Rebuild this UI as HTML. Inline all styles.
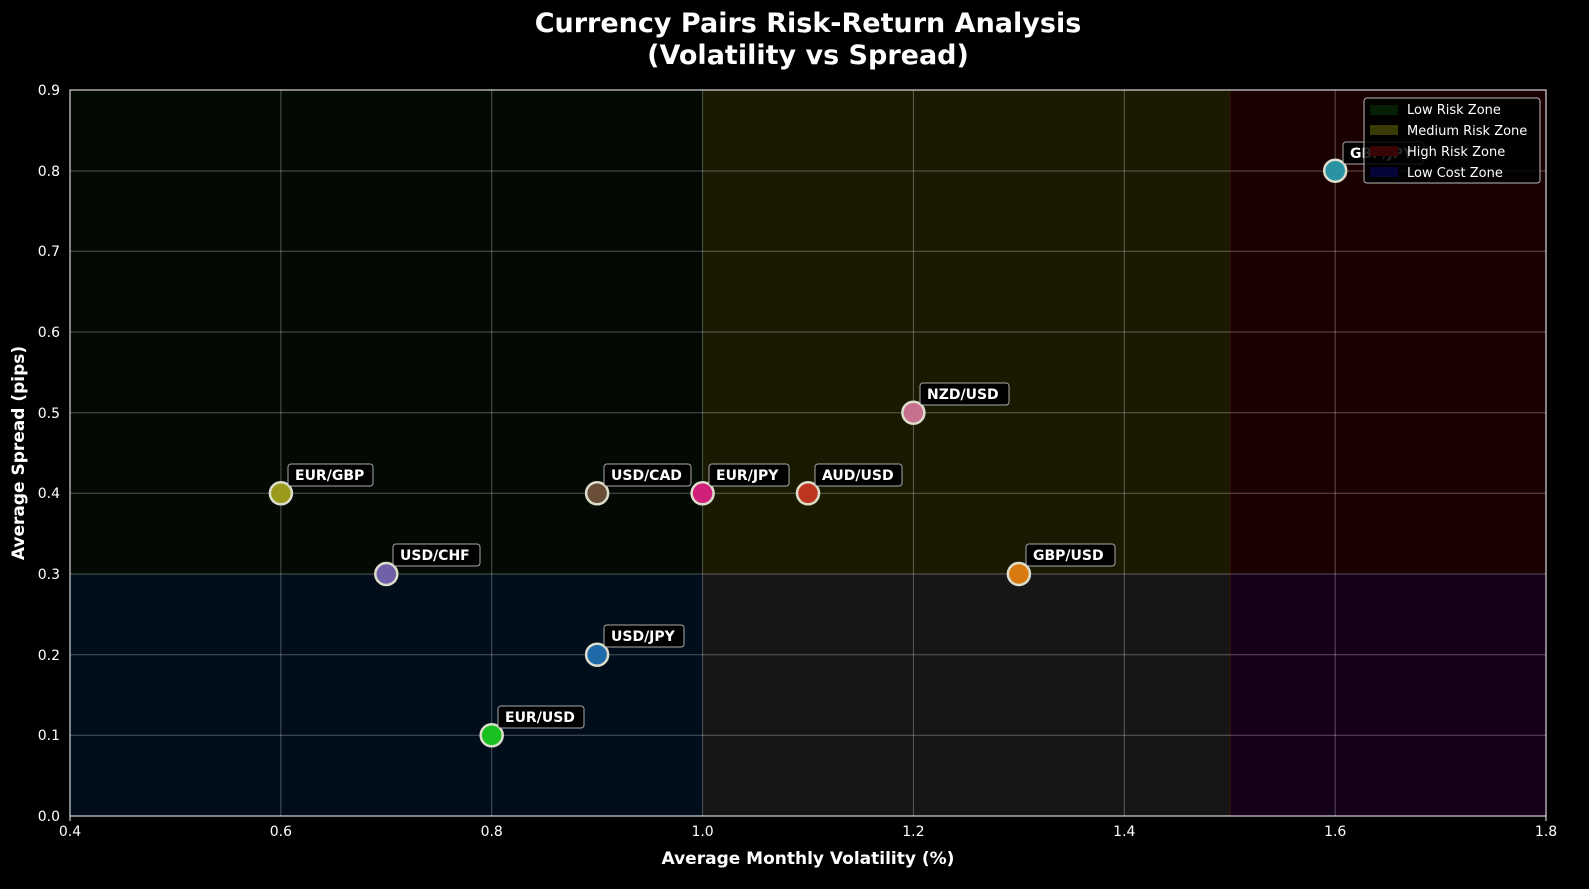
<!DOCTYPE html><html><head><meta charset="utf-8"><style>body{margin:0;background:#000}svg{display:block}</style></head><body>
<svg width="1589" height="889" xmlns="http://www.w3.org/2000/svg" font-family="DejaVu Sans, Liberation Sans, sans-serif">
<rect width="1589" height="889" fill="#000"/>
<rect x="70" y="90" width="633" height="484" fill="#030a03"/>
<rect x="703" y="90" width="527" height="484" fill="#1a1a02"/>
<rect x="1230" y="90" width="316" height="484" fill="#1a0000"/>
<rect x="70" y="574" width="633" height="242" fill="#000d1a"/>
<rect x="703" y="574" width="527" height="242" fill="#161616"/>
<rect x="1230" y="574" width="316" height="242" fill="#15001a"/>
<line x1="1230" y1="90" x2="1230" y2="816" stroke="#3a1a00" stroke-width="1"/>
<g stroke="#ffffff" stroke-opacity="0.3" stroke-width="1">
<line x1="280.9" y1="90" x2="280.9" y2="816"/><line x1="491.7" y1="90" x2="491.7" y2="816"/><line x1="702.6" y1="90" x2="702.6" y2="816"/><line x1="913.4" y1="90" x2="913.4" y2="816"/><line x1="1124.3" y1="90" x2="1124.3" y2="816"/><line x1="1335.2" y1="90" x2="1335.2" y2="816"/>
<line x1="70" y1="171" x2="1546" y2="171"/><line x1="70" y1="251.3" x2="1546" y2="251.3"/><line x1="70" y1="332" x2="1546" y2="332"/><line x1="70" y1="412.7" x2="1546" y2="412.7"/><line x1="70" y1="493.3" x2="1546" y2="493.3"/><line x1="70" y1="574" x2="1546" y2="574"/><line x1="70" y1="654.7" x2="1546" y2="654.7"/><line x1="70" y1="735.3" x2="1546" y2="735.3"/>
</g>
<rect x="70" y="90" width="1476" height="726" fill="none" stroke="#fff" stroke-width="1"/>
<g fill="#fff" font-size="14" text-anchor="middle">
<text x="70" y="836">0.4</text><text x="280.9" y="836">0.6</text><text x="491.7" y="836">0.8</text><text x="702.6" y="836">1.0</text><text x="913.4" y="836">1.2</text><text x="1124.3" y="836">1.4</text><text x="1335.2" y="836">1.6</text><text x="1546" y="836">1.8</text>
</g>
<g fill="#fff" font-size="14" text-anchor="end">
<text x="60" y="821">0.0</text><text x="60" y="740">0.1</text><text x="60" y="660">0.2</text><text x="60" y="579">0.3</text><text x="60" y="498">0.4</text><text x="60" y="418">0.5</text><text x="60" y="337">0.6</text><text x="60" y="256">0.7</text><text x="60" y="176">0.8</text><text x="60" y="95">0.9</text>
</g>
<g stroke="#fff"><line x1="70" y1="816" x2="70" y2="821"/><line x1="1546" y1="816" x2="1546" y2="821"/></g>
<text x="808" y="864" fill="#fff" font-size="17" font-weight="bold" text-anchor="middle">Average Monthly Volatility (%)</text>
<text transform="translate(24,453) rotate(-90)" fill="#fff" font-size="17" font-weight="bold" text-anchor="middle">Average Spread (pips)</text>
<text x="808" y="32" fill="#fff" font-size="27" font-weight="bold" text-anchor="middle">Currency Pairs Risk-Return Analysis</text>
<text x="808" y="64" fill="#fff" font-size="27" font-weight="bold" text-anchor="middle">(Volatility vs Spread)</text>
<g stroke="#ddddcc" stroke-width="2.5">
<circle cx="491.7" cy="735.3" r="11" fill="#18c020"/>
<circle cx="597.1" cy="654.7" r="11" fill="#1f6aa8"/>
<circle cx="386.3" cy="574" r="11" fill="#7060a8"/>
<circle cx="280.9" cy="493.3" r="11" fill="#9a9a1c"/>
<circle cx="597.1" cy="493.3" r="11" fill="#6a4e3a"/>
<circle cx="702.6" cy="493.3" r="11" fill="#d0207a"/>
<circle cx="808" cy="493.3" r="11" fill="#c03520"/>
<circle cx="913.4" cy="412.7" r="11" fill="#c87090"/>
<circle cx="1018.9" cy="574" r="11" fill="#d87a10"/>
<circle cx="1335.2" cy="170.7" r="11" fill="#2a93a3"/>
</g>
<g font-size="14" font-weight="bold" fill="#fff">
<g><rect x="498" y="706" width="86" height="22" rx="3" fill="#000" stroke="#aaa"/><text x="505" y="722">EUR/USD</text></g>
<g><rect x="604" y="625" width="80" height="22" rx="3" fill="#000" stroke="#aaa"/><text x="611" y="641">USD/JPY</text></g>
<g><rect x="393" y="544" width="87" height="22" rx="3" fill="#000" stroke="#aaa"/><text x="400" y="560">USD/CHF</text></g>
<g><rect x="288" y="464" width="85" height="22" rx="3" fill="#000" stroke="#aaa"/><text x="295" y="480">EUR/GBP</text></g>
<g><rect x="604" y="464" width="87" height="22" rx="3" fill="#000" stroke="#aaa"/><text x="611" y="480">USD/CAD</text></g>
<g><rect x="709" y="464" width="80" height="22" rx="3" fill="#000" stroke="#aaa"/><text x="716" y="480">EUR/JPY</text></g>
<g><rect x="815" y="464" width="87" height="22" rx="3" fill="#000" stroke="#aaa"/><text x="822" y="480">AUD/USD</text></g>
<g><rect x="920" y="383" width="89" height="22" rx="3" fill="#000" stroke="#aaa"/><text x="927" y="399">NZD/USD</text></g>
<g><rect x="1026" y="544" width="89" height="22" rx="3" fill="#000" stroke="#aaa"/><text x="1033" y="560">GBP/USD</text></g>
<g><rect x="1343" y="142" width="80" height="22" rx="3" fill="#000" stroke="#aaa"/><text x="1350" y="158">GBP/JPY</text></g>
</g>
<rect x="1364" y="98" width="176" height="85" rx="3" fill="#000" fill-opacity="0.85" stroke="#bbb"/>
<rect x="1370" y="105" width="28" height="10" fill="#052005"/>
<rect x="1370" y="125" width="28" height="10" fill="#3a3a05"/>
<rect x="1370" y="146" width="28" height="10" fill="#3a0505"/>
<rect x="1370" y="167" width="28" height="10" fill="#05053a"/>
<g fill="#fff" font-size="13"><text x="1407" y="114">Low Risk Zone</text><text x="1407" y="135">Medium Risk Zone</text><text x="1407" y="156">High Risk Zone</text><text x="1407" y="177">Low Cost Zone</text></g>
</svg></body></html>
